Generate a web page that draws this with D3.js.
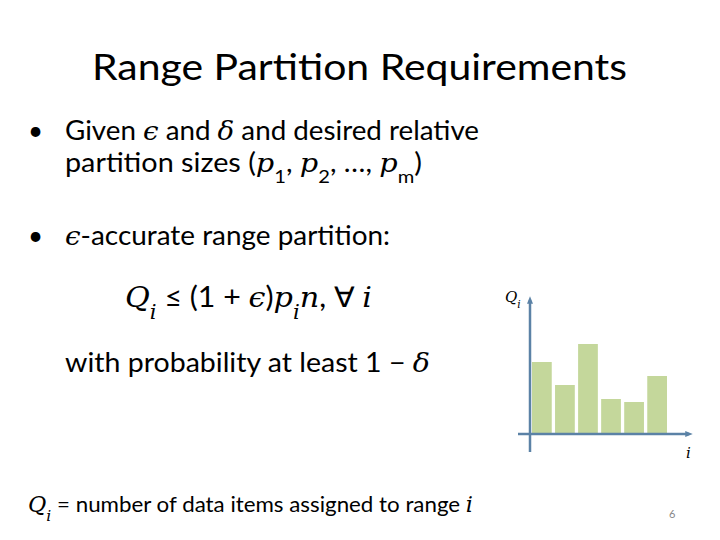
<!DOCTYPE html><html><head><meta charset="utf-8"><script src="https://cdn.jsdelivr.net/npm/d3@7"></script>
<style>body{margin:0;background:#fff}</style></head><body><svg id="s" width="720" height="540"></svg>
<script>
const categories=["1","2","3","4","5","6"];
const values=[72,49,90,35,32,58];
const svg=d3.select("#s");
const F="Lato, 'Open Sans', sans-serif", M="'DejaVu Serif', serif";
const t=(x,y,size,parts,opts={})=>{const e=svg.append("text").attr("x",x).attr("y",y).attr("font-size",size).attr("font-family",F).attr("fill","#000");
 parts.forEach(p=>{const s=e.append("tspan").text(p[0]);if(p[1]){s.attr("font-family",M).attr("font-style","italic");}if(p[2])s.attr("baseline-shift",p[2]).attr("font-size",size*0.7);});
 if(opts.len)e.attr("textLength",opts.len).attr("lengthAdjust","spacingAndGlyphs");return e;};
t(92,80,36,[["Range Partition Requirements"]],{len:535});
t(28,140,26,[["•"]]);t(28,245,26,[["•"]]);
t(65,140,26,[["Given "],["ϵ",1],[" and "],["δ",1],[" and desired relative"]],{len:414});
t(65,172,26,[["partition sizes ("],["p",1],["1","","sub"],[", "],["p",1],["2","","sub"],[", …, "],["p",1],["m","","sub"],[")"]],{len:357});
t(65,245,26,[["ϵ",1],["-accurate range partition:"]],{len:325});
t(125,307,28,[["Q",1],["i",1,"sub"],[" ≤ (1 + "],["ϵ",1],[")"],["p",1],["i",1,"sub"],["n",1],[", ∀ "],["i",1]],{len:247});
t(65,372,26,[["with probability at least 1 − "],["δ",1]],{len:365});
t(28,512,22,[["Q",1],["i",1,"sub"],[" = number of data items assigned to range "],["i",1]],{len:445});
svg.append("text").attr("x",669).attr("y",518).attr("font-size",11).attr("font-family",F).attr("fill","#888").text("6");

// chart
const x=d3.scaleBand().domain(categories).range([531,667]).paddingInner(0.1).paddingOuter(0);
const y=d3.scaleLinear().domain([0,135]).range([434,299]);
svg.selectAll("rect.b").data(values).join("rect").attr("class","b")
 .attr("x",(d,i)=>x(categories[i])+1).attr("width",x.bandwidth()-1)
 .attr("y",d=>y(d)).attr("height",d=>y(0)-y(d)-1).attr("fill","#c4d79b");
const ac="#5b82a6";
const defs=svg.append("defs");
defs.append("marker").attr("id","ar").attr("viewBox","0 0 10 10").attr("refX",5).attr("refY",5)
 .attr("markerWidth",3).attr("markerHeight",3).attr("orient","auto")
 .append("path").attr("d","M0,1L10,5L0,9z").attr("fill",ac);
svg.append("line").attr("x1",530).attr("y1",452).attr("x2",530).attr("y2",300).attr("stroke",ac).attr("stroke-width",2.5).attr("marker-end","url(#ar)");
svg.append("line").attr("x1",518).attr("y1",434).attr("x2",689).attr("y2",434).attr("stroke",ac).attr("stroke-width",2.5).attr("marker-end","url(#ar)");
t(505,302,15,[["Q",1],["i",1,"sub"]]);
t(686,458,15,[["i",1]]);
</script></body></html>
